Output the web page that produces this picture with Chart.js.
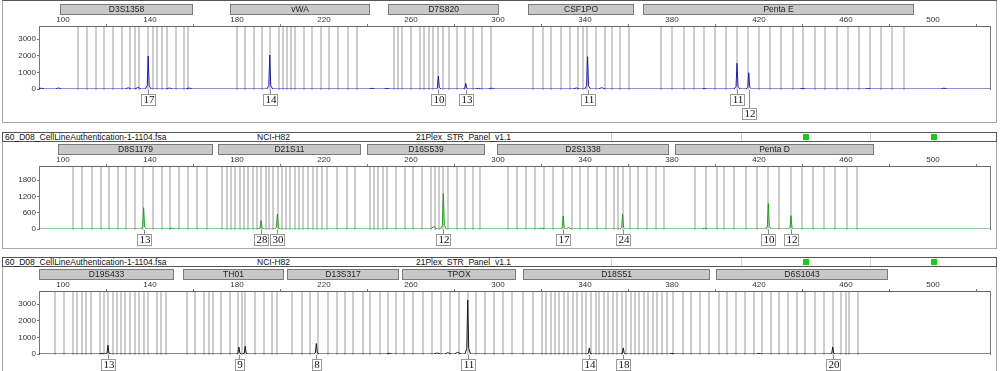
<!DOCTYPE html>
<html>
<head>
<meta charset="utf-8">
<script src="https://cdn.jsdelivr.net/npm/chart.js@4.4.0/dist/chart.umd.min.js"></script>
<style>
body{margin:0;background:#fff;width:1000px;height:371px;overflow:hidden;position:relative;font-family:"Liberation Sans",Arial,sans-serif}
.frame{position:absolute;left:2px;width:995px;border:1px solid #a8a8a8;box-sizing:border-box}
.head{position:absolute;left:2px;width:995px;height:10px;border:1px solid #555;box-sizing:border-box;font-size:8.5px;line-height:8px;color:#111;background:#fff}
.head span{position:absolute;top:0;white-space:nowrap}
.sq{position:absolute;top:1px;width:6px;height:6px;background:#16cc16}
.dv{position:absolute;top:0;height:8px;width:1px;background:#d0d0d0}
canvas{position:absolute;left:0}
</style>
</head>
<body>
<div class="frame" style="top:-1px;height:124px"></div>
<div class="head" style="top:-9px"></div>
<div class="frame" style="top:132px;height:117px"></div>
<div class="head" style="top:132px">
  <span style="left:2px">60_D08_CellLineAuthentication-1-1104.fsa</span>
  <span style="left:254px">NCI-H82</span>
  <span style="left:413px">21Plex_STR_Panel_v1.1</span>
  <div class="dv" style="left:608px"></div><div class="dv" style="left:738px"></div><div class="dv" style="left:867px"></div>
  <div class="sq" style="left:800px"></div><div class="sq" style="left:928px"></div>
</div>
<div class="frame" style="top:257px;height:130px"></div>
<div class="head" style="top:257px">
  <span style="left:2px">60_D08_CellLineAuthentication-1-1104.fsa</span>
  <span style="left:254px">NCI-H82</span>
  <span style="left:413px">21Plex_STR_Panel_v1.1</span>
  <div class="dv" style="left:608px"></div><div class="dv" style="left:738px"></div><div class="dv" style="left:867px"></div>
  <div class="sq" style="left:800px"></div><div class="sq" style="left:928px"></div>
</div>

<canvas id="c1" width="1000" height="125" style="top:0px"></canvas>
<canvas id="c2" width="1000" height="109" style="top:141px"></canvas>
<canvas id="c3" width="1000" height="105" style="top:266px"></canvas>

<script>
// size axis (bp), shared by all three dyes
const X_MIN = 89;
const X_MAX = 526.2;
const X_TICKS = [100,120,140,160,180,200,220,240,260,280,300,320,340,360,380,400,420,440,460,480,500,520];
const X_TICK_LABELS = [100,140,180,220,260,300,340,380,420,460,500];

// ---- blue dye
const P1_Y_TICKS = [0,1000,2000,3000];
const P1_LOCI = ['D3S1358','vWA','D7S820','CSF1PO','Penta E'];
const P1_LOCUS_START = [98.6, 176.8, 249.6, 313.7, 366.5];
const P1_LOCUS_END = [159.2, 240.8, 300.1, 362.2, 491];
const P1_BINS = [107,111,115,119,123,127,131,133,135,139,141.5,143.2,145.6,148,151.8,155.5,157.3,
  180,183.8,187.7,191.5,195.3,199.2,201.1,203,204.9,206.8,210.8,214.6,218.5,222.4,226.4,231,235,
  252.1,254.1,256,260.2,264.3,266.2,268.2,270.2,272.6,274.6,277.5,281,285,288.7,292.5,296.7,
  316.2,320.5,324.6,328.9,333,336.8,338.9,341,345,349.1,352.5,356,360.2,
  375,380,385.4,390,394.6,399.6,404.8,409.9,414.9,420.1,425.2,430.2,435.5,440.1,445.6,450.5,455.9,460.8,465.8,471.2,476.1,481.2,486.5];
const P1_PEAK_BP = [139.2, 195.1, 272.6, 285.2, 341.2, 409.9, 415.3];
const P1_PEAK_RFU = [1990, 2050, 780, 340, 1950, 1550, 980];
const P1_NOISE_BP = [90, 98, 130, 134.5, 149, 158, 242, 249, 291, 297, 336, 347.7, 395, 440, 470, 505];
const P1_NOISE_RFU = [50, 60, 70, 90, 60, 60, 40, 40, 40, 50, 60, 80, 30, 40, 30, 50];
const P1_ALLELE_BP = [139.2, 195.1, 272.6, 285.2, 341.2, 409.9, 415.3];
const P1_ALLELE_TEXT = ['17','14','10','13','11','11','12'];
const P1_ALLELE_ROW = [0,0,0,0,0,0,1];

// ---- green dye
const P2_Y_TICKS = [0,600,1200,1800];
const P2_LOCI = ['D8S1179','D21S11','D16S539','D2S1338','Penta D'];
const P2_LOCUS_START = [97.8, 171.4, 239.6, 299.5, 381.4];
const P2_LOCUS_END = [168.4, 236.6, 293.6, 378, 472.5];
const P2_BINS = [104.7,108.9,113.2,117.3,121.3,125.1,129,133.1,136.9,141.2,145.4,149.2,153.5,157.6,161.8,166.1,
  173,175.3,177.1,179.1,181.4,183.2,185.2,187.2,189.1,191,193.2,194.9,196.7,198.7,200.7,202.5,204.5,206.5,208.5,210.5,212.8,214.8,216.9,218.9,221.2,225.8,230.4,234.3,
  241.1,243,244.9,247.1,248.9,253.1,257.2,260.9,264.9,269,271,273,274.8,277,281.1,284.8,288.5,291.7,
  304.7,308.6,312.9,317,321.3,325.4,329.7,333.9,337.7,341.5,345.7,349.7,353.5,355.3,357.3,360.7,364.5,368.6,372.6,376.5,
  390.6,395.6,400.5,403.9,408.6,414,418.9,424.3,429.3,434.6,439.6,444.9,449.9,454.9,460.3,465.2];
const P2_PEAK_BP = [137.1, 191.1, 198.6, 274.9, 330, 357.3, 424.3, 434.7];
const P2_PEAK_RFU = [784, 306, 552, 1314, 478, 540, 945, 490];
const P2_NOISE_BP = [150, 270.5, 320, 332.4, 395];
const P2_NOISE_RFU = [30, 90, 30, 50, 30];
const P2_ALLELE_BP = [137.1, 191.1, 198.6, 274.9, 330, 357.3, 424.3, 434.7];
const P2_ALLELE_TEXT = ['13','28','30','12','17','24','10','12'];
const P2_ALLELE_ROW = [0,0,0,0,0,0,0,0];

// ---- black dye
const P3_Y_TICKS = [0,1000,2000,3000];
const P3_LOCI = ['D19S433','TH01','D13S317','TPOX','D18S51','D6S1043'];
const P3_LOCUS_START = [89.1, 155, 203.1, 255.7, 311.4, 400.2];
const P3_LOCUS_END = [150.4, 201, 254.2, 307.8, 397, 479];
const P3_BINS = [96.2,100.5,104.6,106.6,108.7,110.7,112.7,116.9,118.9,120.7,123,124.8,126.8,128.6,130.9,133,134.9,137.1,139.1,143.2,145.2,147.5,
  157,160.8,164.8,167,169,172.8,176.6,180.5,182.3,183.8,188.1,192.3,196.2,198.5,
  205.1,209.7,213.6,217.4,222,225.8,229.7,233.5,238.1,241.2,245.7,249.6,253,
  256.9,261,265.4,269.5,273.8,277.9,282.1,286.1,289.9,294,298.3,302.4,306.6,
  311.6,316.2,320.1,322,324.2,326.2,328.2,330.3,332.3,334.3,336.5,338.5,340.5,342.6,345,346.6,348.7,350.7,352.7,354.9,356.9,358.9,361,363,365,367.1,369.1,371.1,373.2,375.3,377.6,380.6,384.9,388.6,392.9,397.1,
  401.5,405.3,409.4,413.4,417.6,421.4,425.7,429.3,433.3,437.5,441.3,445.6,449.8,453.9,457.9,460,461.2,465.5];
const P3_PEAK_BP = [120.7, 180.9, 183.8, 216.5, 286.1, 342, 357.6, 453.9];
const P3_PEAK_RFU = [527, 424, 467, 630, 3255, 364, 364, 424];
const P3_NOISE_BP = [118, 250, 272, 277, 281.5, 380, 420];
const P3_NOISE_RFU = [40, 40, 60, 80, 100, 30, 30];
const P3_ALLELE_BP = [120.7, 180.9, 216.5, 286.1, 342, 357.6, 453.9];
const P3_ALLELE_TEXT = ['13','9','8','11','14','18','20'];
const P3_ALLELE_ROW = [0,0,0,0,0,0,0];

Chart.defaults.font.family = '"Liberation Sans", Arial, sans-serif';

// turn the peak lists into a trace the line chart can draw
function buildTrace(peakBp, peakRfu, noiseBp, noiseRfu) {
  const pts = [{x: X_MIN, y: 0}, {x: X_MAX, y: 0}];
  peakBp.forEach((b, i) => {
    const h = peakRfu[i];
    pts.push({x: b - 1.3, y: 0}, {x: b - 0.45, y: h * 0.1}, {x: b, y: h},
             {x: b + 0.45, y: h * 0.1}, {x: b + 1.3, y: 0});
  });
  noiseBp.forEach((b, i) => {
    pts.push({x: b - 1.5, y: 0}, {x: b, y: noiseRfu[i]}, {x: b + 1.5, y: 0});
  });
  return pts.sort((a, b) => a.x - b.x);
}

function panelPlugin(p) {
  return {
    id: 'panel' + p.id,
    beforeDatasetsDraw(chart) {
      const {ctx, chartArea: a, scales: {x, y}} = chart;
      const base = y.getPixelForValue(0);
      ctx.save();
      ctx.fillStyle = '#cdcdcd';
      p.bins.forEach(b => {
        const px = x.getPixelForValue(b);
        ctx.fillRect(Math.round(px) - 1, a.top + 1, 2, base - a.top);
      });
      ctx.restore();
    },
    afterDraw(chart) {
      const {ctx, chartArea: a, scales: {x, y}} = chart;
      const base = y.getPixelForValue(0);
      ctx.save();
      // right edge of plot
      ctx.strokeStyle = '#777';
      ctx.lineWidth = 1;
      ctx.beginPath();
      ctx.moveTo(Math.round(a.right) + 0.5, a.top);
      ctx.lineTo(Math.round(a.right) + 0.5, base + 1);
      ctx.stroke();

      // locus bars
      const barTop = Math.round(a.top - 22) + 0.5;
      p.loci.forEach((name, i) => {
        const x1 = Math.round(x.getPixelForValue(p.start[i])) + 0.5;
        const x2 = Math.round(x.getPixelForValue(p.end[i])) + 0.5;
        ctx.fillStyle = '#c8c8c8';
        ctx.fillRect(x1, barTop, x2 - x1, 10);
        ctx.strokeStyle = '#7a7a7a';
        ctx.strokeRect(x1, barTop, x2 - x1, 10);
        ctx.fillStyle = '#222';
        ctx.font = '8.5px "Liberation Sans", Arial';
        ctx.textAlign = 'center';
        ctx.textBaseline = 'middle';
        ctx.fillText(name, (x1 + x2) / 2, barTop + 5.5);
      });

      // allele call boxes
      ctx.font = '11px "Liberation Serif", "Times New Roman", serif';
      p.alleleBp.forEach((b, i) => {
        const cx = Math.round(x.getPixelForValue(b));
        const txt = p.alleleText[i];
        const w = Math.round(ctx.measureText(txt).width) + 3;
        const top = Math.round(base) + 5 + p.alleleRow[i] * 14;
        ctx.strokeStyle = '#8a8a8a';
        ctx.beginPath();
        ctx.moveTo(cx + 0.5, base + 1);
        ctx.lineTo(cx + 0.5, top);
        ctx.stroke();
        ctx.fillStyle = '#fff';
        ctx.fillRect(cx - w / 2, top, w, 11);
        ctx.strokeStyle = '#999';
        ctx.strokeRect(Math.round(cx - w / 2) + 0.5, top + 0.5, w, 11);
        ctx.fillStyle = '#111';
        ctx.textAlign = 'center';
        ctx.textBaseline = 'middle';
        ctx.fillText(txt, cx + 1, top + 6.5);
      });
      ctx.restore();
    }
  };
}

function makePanel(p) {
  return new Chart(document.getElementById(p.canvas), {
    type: 'line',
    data: {
      datasets: [{
        data: buildTrace(p.peakBp, p.peakRfu, p.noiseBp, p.noiseRfu),
        borderColor: p.color,
        borderWidth: 1,
        pointRadius: 0,
        tension: 0,
        fill: false
      }]
    },
    options: {
      responsive: false,
      animation: false,
      layout: {autoPadding: false, padding: {left: 0, top: 0, right: 10, bottom: p.padBottom}},
      plugins: {legend: {display: false}, tooltip: {enabled: false}},
      scales: {
        x: {
          type: 'linear',
          position: 'top',
          min: X_MIN,
          max: X_MAX,
          afterBuildTicks: s => { s.ticks = X_TICKS.map(v => ({value: v})); },
          afterFit: s => { s.height = p.plotTop; },
          ticks: {
            autoSkip: false,
            maxRotation: 0,
            padding: -1,
            color: '#333',
            font: {size: 8},
            callback: v => X_TICK_LABELS.includes(v) ? String(v) : ''
          },
          grid: {
            drawOnChartArea: false,
            tickLength: 2,
            color: c => (c.tick && X_TICK_LABELS.includes(c.tick.value)) ? 'rgba(0,0,0,0)' : '#777'
          },
          border: {color: '#666'}
        },
        y: {
          type: 'linear',
          min: 0,
          max: p.yMax,
          afterBuildTicks: s => { s.ticks = p.yTicks.map(v => ({value: v})); },
          afterFit: s => { s.width = 39; },
          ticks: {padding: 1, color: '#333', font: {size: 8}, callback: v => String(v)},
          grid: {drawOnChartArea: false, tickLength: 2, color: '#777'},
          border: {color: '#777'}
        }
      }
    },
    plugins: [panelPlugin(p)]
  });
}

makePanel({
  id: 1, canvas: 'c1', color: '#1e1ea6', plotTop: 26, padBottom: 36, yMax: 3800, yTicks: P1_Y_TICKS,
  loci: P1_LOCI, start: P1_LOCUS_START, end: P1_LOCUS_END, bins: P1_BINS,
  peakBp: P1_PEAK_BP, peakRfu: P1_PEAK_RFU, noiseBp: P1_NOISE_BP, noiseRfu: P1_NOISE_RFU,
  alleleBp: P1_ALLELE_BP, alleleText: P1_ALLELE_TEXT, alleleRow: P1_ALLELE_ROW
});
makePanel({
  id: 2, canvas: 'c2', color: '#1f9e1f', plotTop: 25, padBottom: 21, yMax: 2320, yTicks: P2_Y_TICKS,
  loci: P2_LOCI, start: P2_LOCUS_START, end: P2_LOCUS_END, bins: P2_BINS,
  peakBp: P2_PEAK_BP, peakRfu: P2_PEAK_RFU, noiseBp: P2_NOISE_BP, noiseRfu: P2_NOISE_RFU,
  alleleBp: P2_ALLELE_BP, alleleText: P2_ALLELE_TEXT, alleleRow: P2_ALLELE_ROW
});
makePanel({
  id: 3, canvas: 'c3', color: '#1a1a1a', plotTop: 25, padBottom: 17, yMax: 3800, yTicks: P3_Y_TICKS,
  loci: P3_LOCI, start: P3_LOCUS_START, end: P3_LOCUS_END, bins: P3_BINS,
  peakBp: P3_PEAK_BP, peakRfu: P3_PEAK_RFU, noiseBp: P3_NOISE_BP, noiseRfu: P3_NOISE_RFU,
  alleleBp: P3_ALLELE_BP, alleleText: P3_ALLELE_TEXT, alleleRow: P3_ALLELE_ROW
});
</script>
</body>
</html>
